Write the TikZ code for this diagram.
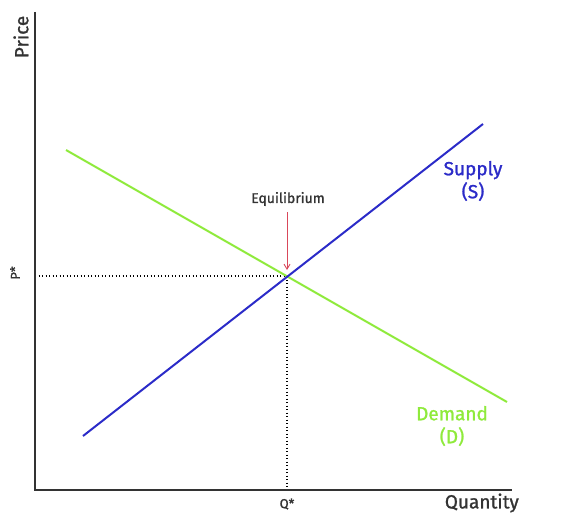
\documentclass[tikz,border=0pt]{standalone}
\usepackage{fontspec}
\setmainfont{Fira Sans}[FakeBold=1.2,AutoFakeBold=1.2]
\usetikzlibrary{arrows.meta}
\definecolor{supplyblue}{HTML}{2B2BC8}
\definecolor{demandgreen}{HTML}{8FEA3C}
\definecolor{axisgray}{HTML}{333333}
\definecolor{arrowred}{HTML}{D9475A}
\begin{document}
\begin{tikzpicture}[x=1pt,y=-1pt,
  axis/.style={draw=axisgray,line width=1.8pt},
  guide/.style={draw=black,line width=1.4pt,dash pattern=on 1.4pt off 2.1pt},
  curve/.style={line width=2pt},
  lbl/.style={font=\fontsize{19}{23}\selectfont\bfseries,align=center,inner sep=0pt},
  small/.style={font=\fontsize{13}{14}\selectfont\bfseries,text=axisgray,inner sep=0pt}]
\useasboundingbox (0,0) rectangle (575,524);
\coordinate (O) at (35,490);
\coordinate (ytop) at (35,12);
\coordinate (xend) at (512,490);
\coordinate (E) at (287,276);
\coordinate (Py) at (35,276);
\coordinate (Qx) at (287,490);
\coordinate (s1) at (83,436);
\coordinate (s2) at (483,124);
\coordinate (d1) at (66,150);
\coordinate (d2) at (507,402);
\draw[guide] (Py) -- (E);
\draw[guide] (E) -- (Qx);
\draw[curve,demandgreen] (d1) -- (d2);
\draw[curve,supplyblue] (s1) -- (s2);
\draw[axis] (ytop) -- (O) -- (xend);
\node[small,font=\fontsize{14}{15}\selectfont\bfseries] (eq) at (288,199) {Equilibrium};
\coordinate (eqtip) at (287,270);
\draw[arrowred,line width=0.9pt,-{Straight Barb[length=5pt,width=6pt]}] (287,212) -- (eqtip);
\node[lbl,text=supplyblue] (sup) at (473,181) {Supply\\(S)};
\node[lbl,text=demandgreen] (dem) at (452,426) {Demand\\(D)};
\node[lbl,text=axisgray,anchor=east] (qty) at (519,503) {Quantity};
\node[lbl,text=axisgray,rotate=90] (pr) at (21,37) {Price};
\node[small,rotate=90] (ps) at (15,273) {P*};
\node[small] (qs) at (287,504) {Q*};
\end{tikzpicture}
\end{document}
